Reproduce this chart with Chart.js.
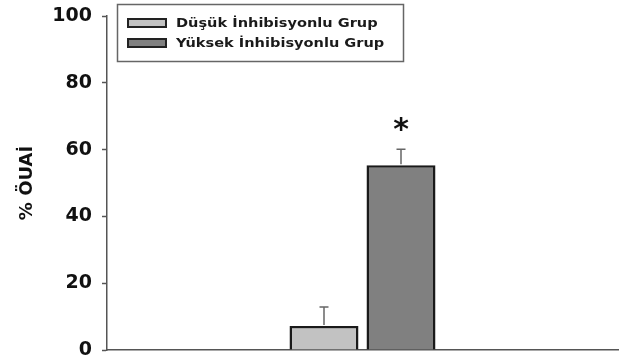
<!DOCTYPE html>
<html>
<head>
<meta charset="utf-8">
<script src="https://cdn.jsdelivr.net/npm/chart.js@4/dist/chart.umd.min.js"></script>
<style>
  html, body { margin: 0; padding: 0; background: #fff; }
  #wrap { width: 619px; height: 360px; position: relative; }
</style>
</head>
<body>
<div id="wrap"><canvas id="c" width="619" height="360"></canvas></div>
<script>
// Group means and standard errors (% ÖUAİ)
const categories = [''];
const groupNames = ['Düşük İnhibisyonlu Grup', 'Yüksek İnhibisyonlu Grup'];
const groupMeans = [7.2, 55.3];
const groupErrors = [5.7, 4.8];
const significance = ['', '*'];
const yTicks = [0, 20, 40, 60, 80, 100];
const yTitle = '% ÖUAİ';

const fills = ['#c2c2c2', '#808080'];
const FONT = '"DejaVu Sans", "Liberation Sans", Arial, sans-serif';

// Error bars and significance stars, positioned through the scales
const errorBars = {
  id: 'errorBars',
  afterDatasetsDraw(chart) {
    const ctx = chart.ctx;
    const y = chart.scales.y;
    chart.data.datasets.forEach((ds, i) => {
      const meta = chart.getDatasetMeta(i);
      const bar = meta.data[0];
      const v = ds.data[0];
      const e = groupErrors[i];
      const yTop = y.getPixelForValue(v + e);
      const yBar = y.getPixelForValue(v);
      ctx.save();
      ctx.strokeStyle = '#666';
      ctx.lineWidth = 1.5;
      ctx.beginPath();
      ctx.moveTo(bar.x, yBar - 1);
      ctx.lineTo(bar.x, yTop);
      ctx.moveTo(bar.x - 4.5, yTop);
      ctx.lineTo(bar.x + 4.5, yTop);
      ctx.stroke();
      if (significance[i]) {
        ctx.fillStyle = '#111';
        ctx.font = 'bold 30px ' + FONT;
        ctx.textAlign = 'center';
        ctx.textBaseline = 'middle';
        ctx.fillText(significance[i], bar.x, yTop - 18);
      }
      ctx.restore();
    });
  }
};

// Boxed legend in the upper-left of the plot
const boxLegend = {
  id: 'boxLegend',
  afterDraw(chart) {
    const ctx = chart.ctx;
    const x0 = 117.5, y0 = 4.5, w = 286, h = 57;
    ctx.save();
    ctx.fillStyle = '#fff';
    ctx.fillRect(x0, y0, w, h);
    ctx.strokeStyle = '#666';
    ctx.lineWidth = 1.5;
    ctx.strokeRect(x0, y0, w, h);
    chart.data.datasets.forEach((ds, i) => {
      const cy = 23 + i * 20;
      ctx.fillStyle = ds.backgroundColor;
      ctx.fillRect(128, cy - 4, 38, 8);
      ctx.strokeStyle = '#222';
      ctx.lineWidth = 2;
      ctx.strokeRect(128, cy - 4, 38, 8);
      ctx.fillStyle = '#1a1a1a';
      ctx.font = 'bold 13px ' + FONT;
      ctx.textAlign = 'left';
      ctx.textBaseline = 'middle';
      // slightly widened lettering
      ctx.save();
      ctx.translate(176, cy + 0.5);
      ctx.scale(1.12, 1);
      ctx.fillText(ds.label, 0, 0);
      ctx.restore();
    });
    ctx.restore();
  }
};

new Chart(document.getElementById('c'), {
  type: 'bar',
  data: {
    labels: categories,
    datasets: groupNames.map((name, i) => ({
      label: name,
      data: [groupMeans[i]],
      backgroundColor: fills[i],
      borderColor: '#1a1a1a',
      borderWidth: 2.5,
      borderSkipped: 'bottom',
      categoryPercentage: 0.3014,
      barPercentage: 0.896
    }))
  },
  options: {
    responsive: false,
    animation: false,
    devicePixelRatio: 1,
    layout: { padding: { top: 16, right: 1, bottom: 2, left: 0 } },
    plugins: { legend: { display: false }, tooltip: { enabled: false } },
    scales: {
      x: {
        grid: { display: false },
        ticks: { display: false },
        border: { display: true, color: '#555', width: 1.5 }
      },
      y: {
        min: 0,
        max: 100,
        afterBuildTicks: s => { s.ticks = yTicks.map(v => ({ value: v })); },
        afterFit: s => { s.width = 107; s.paddingTop = 0; s.paddingBottom = 0; },
        ticks: {
          color: '#111',
          font: { family: FONT, size: 19, weight: 'bold' },
          padding: 10
        },
        grid: { drawOnChartArea: false, drawTicks: true, tickLength: 5, color: '#555', tickWidth: 1.5 },
        border: { display: true, color: '#555', width: 1.5 },
        title: {
          display: true,
          text: yTitle,
          color: '#111',
          font: { family: FONT, size: 18, weight: 'bold' },
          padding: { top: 17, bottom: 0 }
        }
      }
    }
  },
  plugins: [errorBars, boxLegend]
});
</script>
</body>
</html>
